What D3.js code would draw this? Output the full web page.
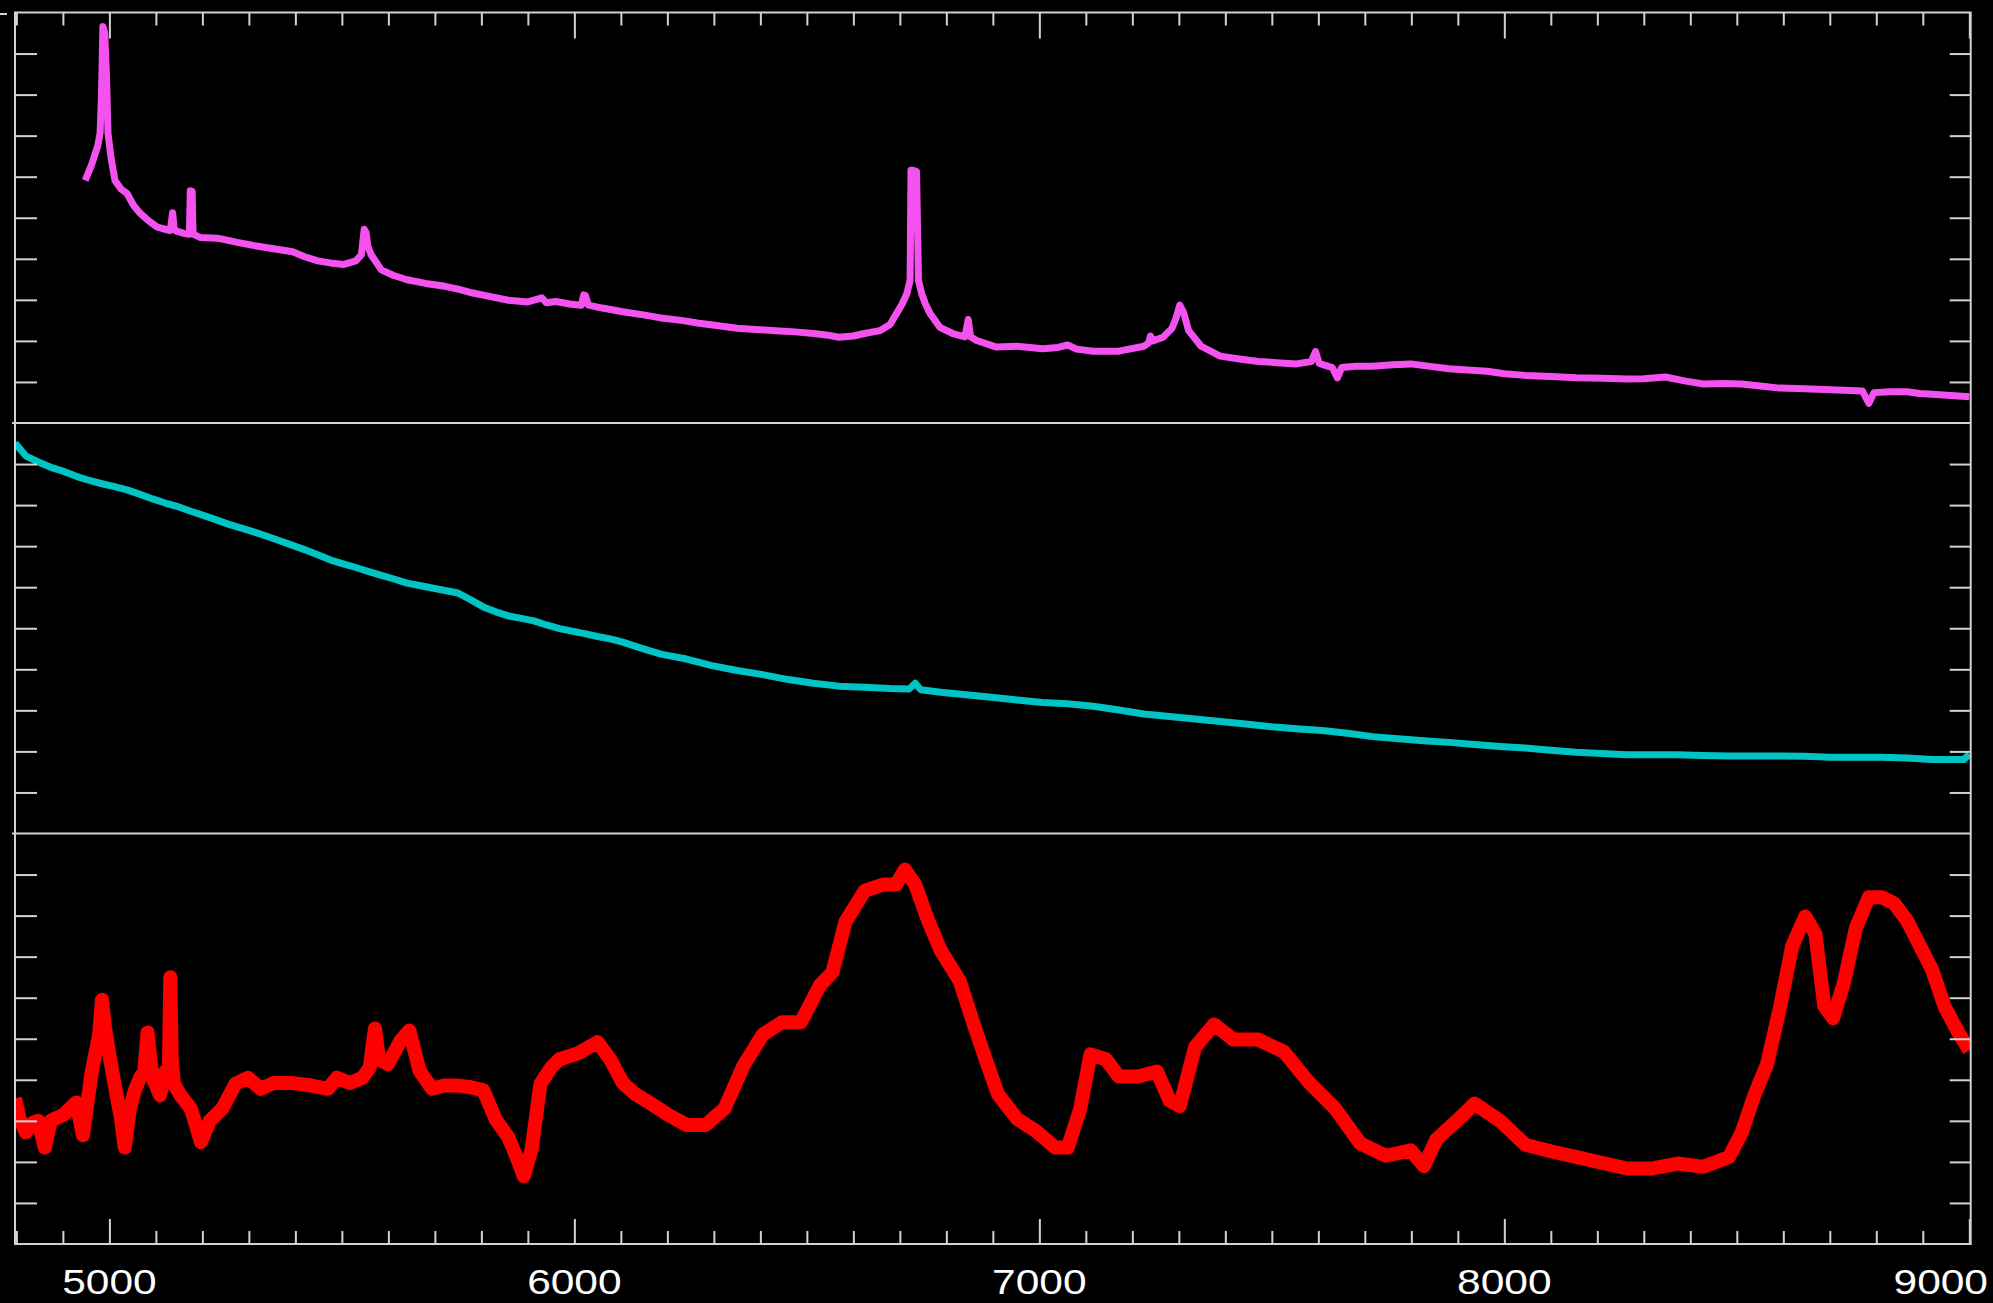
<!DOCTYPE html>
<html>
<head>
<meta charset="utf-8">
<script src="https://cdn.jsdelivr.net/npm/d3@7"></script>
<style>
  html, body { margin: 0; padding: 0; background: #000; }
  svg { display: block; }
</style>
</head>
<body>
<svg id="chart" width="1993" height="1303"></svg>
<script>
// Wavelength axis (Angstrom) and tick labels
const xDomain = [4797, 9003];
const xTickLabels = [5000, 6000, 7000, 8000, 9000];

// Top spectrum (magenta): wavelength / flux (in tick units, panel 0..10)
const topWave = [4948, 4962, 4975, 4980, 4983, 4986, 4990, 4994, 4997, 5003, 5012, 5025, 5038, 5052, 5066, 5085, 5103, 5120, 5131, 5136, 5139, 5143, 5160, 5172, 5174, 5178, 5180, 5195, 5232, 5243, 5275, 5312, 5350, 5394, 5420, 5448, 5475, 5503, 5530, 5542, 5548, 5552, 5556, 5563, 5585, 5610, 5640, 5680, 5722, 5750, 5776, 5820, 5858, 5900, 5930, 5940, 5960, 5990, 6015, 6020, 6024, 6030, 6060, 6104, 6145, 6186, 6230, 6268, 6310, 6350, 6390, 6432, 6475, 6514, 6545, 6569, 6600, 6624, 6657, 6679, 6693, 6705, 6715, 6722, 6724, 6728, 6736, 6740, 6747, 6755, 6765, 6786, 6814, 6840, 6847, 6852, 6865, 6908, 6952, 7007, 7040, 7061, 7080, 7116, 7171, 7225, 7235, 7239, 7244, 7266, 7285, 7294, 7302, 7310, 7321, 7348, 7389, 7430, 7471, 7510, 7553, 7585, 7594, 7602, 7630, 7641, 7650, 7680, 7717, 7760, 7799, 7840, 7881, 7920, 7963, 8000, 8045, 8100, 8155, 8210, 8264, 8300, 8346, 8390, 8428, 8470, 8510, 8550, 8592, 8630, 8674, 8730, 8770, 8784, 8795, 8830, 8866, 8893, 8920, 8960, 9000];
const topFlux = [5.91, 6.30, 6.75, 7.06, 8.0, 9.66, 9.5, 8.4, 7.06, 6.5, 5.91, 5.70, 5.59, 5.30, 5.11, 4.92, 4.77, 4.72, 4.69, 5.12, 4.75, 4.68, 4.62, 4.60, 5.66, 5.64, 4.60, 4.52, 4.50, 4.48, 4.40, 4.32, 4.25, 4.17, 4.05, 3.95, 3.90, 3.86, 3.95, 4.10, 4.72, 4.64, 4.30, 4.10, 3.73, 3.60, 3.49, 3.40, 3.33, 3.26, 3.18, 3.08, 2.99, 2.95, 3.05, 2.93, 2.96, 2.90, 2.87, 3.12, 3.10, 2.87, 2.80, 2.71, 2.64, 2.56, 2.50, 2.43, 2.37, 2.31, 2.28, 2.25, 2.22, 2.18, 2.14, 2.09, 2.12, 2.18, 2.25, 2.40, 2.67, 2.90, 3.15, 3.48, 6.16, 6.16, 6.12, 3.48, 3.15, 2.90, 2.67, 2.33, 2.18, 2.10, 2.52, 2.10, 2.01, 1.85, 1.87, 1.81, 1.84, 1.90, 1.80, 1.75, 1.75, 1.87, 1.95, 2.12, 2.00, 2.09, 2.30, 2.56, 2.87, 2.70, 2.25, 1.87, 1.63, 1.56, 1.50, 1.47, 1.44, 1.50, 1.74, 1.45, 1.35, 1.10, 1.35, 1.38, 1.38, 1.42, 1.44, 1.38, 1.32, 1.29, 1.26, 1.20, 1.16, 1.13, 1.10, 1.09, 1.07, 1.08, 1.12, 1.02, 0.95, 0.96, 0.95, 0.90, 0.85, 0.84, 0.82, 0.80, 0.78, 0.48, 0.74, 0.76, 0.76, 0.72, 0.70, 0.67, 0.64];

// Middle spectrum (cyan)
const midWave = [4797, 4820, 4847, 4874, 4902, 4929, 4957, 4984, 5011, 5038, 5066, 5093, 5120, 5148, 5175, 5202, 5230, 5257, 5284, 5312, 5339, 5366, 5394, 5421, 5448, 5476, 5503, 5530, 5558, 5585, 5612, 5640, 5667, 5694, 5722, 5749, 5776, 5804, 5831, 5858, 5886, 5913, 5940, 5968, 5995, 6022, 6050, 6077, 6104, 6132, 6159, 6186, 6241, 6296, 6350, 6405, 6460, 6514, 6569, 6624, 6679, 6720, 6733, 6745, 6788, 6843, 6897, 6952, 7007, 7061, 7116, 7171, 7225, 7280, 7335, 7389, 7444, 7499, 7553, 7608, 7663, 7717, 7772, 7827, 7881, 7936, 7991, 8045, 8100, 8155, 8209, 8264, 8319, 8373, 8428, 8483, 8537, 8592, 8647, 8701, 8756, 8811, 8866, 8920, 8960, 8988, 9000];
const midFlux = [9.51, 9.20, 9.05, 8.92, 8.82, 8.70, 8.60, 8.52, 8.45, 8.37, 8.26, 8.15, 8.05, 7.96, 7.85, 7.75, 7.64, 7.53, 7.44, 7.34, 7.24, 7.13, 7.02, 6.91, 6.79, 6.66, 6.57, 6.48, 6.38, 6.29, 6.20, 6.10, 6.04, 5.98, 5.92, 5.86, 5.70, 5.52, 5.40, 5.30, 5.24, 5.18, 5.08, 4.99, 4.93, 4.87, 4.80, 4.74, 4.66, 4.56, 4.46, 4.37, 4.25, 4.09, 3.97, 3.87, 3.75, 3.66, 3.59, 3.56, 3.53, 3.52, 3.66, 3.50, 3.44, 3.38, 3.32, 3.25, 3.19, 3.16, 3.10, 3.01, 2.91, 2.85, 2.79, 2.73, 2.67, 2.60, 2.55, 2.51, 2.44, 2.36, 2.31, 2.26, 2.22, 2.17, 2.12, 2.08, 2.03, 1.98, 1.95, 1.92, 1.92, 1.92, 1.90, 1.89, 1.89, 1.89, 1.88, 1.86, 1.86, 1.86, 1.84, 1.80, 1.80, 1.80, 1.93];

// Bottom spectrum (red)
const botWave = [4797, 4807, 4820, 4835, 4847, 4861, 4874, 4888, 4902, 4915, 4929, 4943, 4962, 4978, 4984, 4990, 4997, 5011, 5025, 5033, 5044, 5055, 5066, 5075, 5082, 5088, 5093, 5109, 5120, 5128, 5131, 5134, 5139, 5153, 5175, 5186, 5197, 5216, 5243, 5271, 5298, 5325, 5353, 5394, 5435, 5470, 5489, 5517, 5544, 5560, 5571, 5580, 5599, 5626, 5645, 5667, 5694, 5720, 5749, 5776, 5804, 5831, 5858, 5880, 5891, 5908, 5927, 5950, 5968, 6009, 6050, 6077, 6104, 6130, 6159, 6200, 6241, 6282, 6323, 6364, 6405, 6446, 6487, 6528, 6555, 6583, 6624, 6665, 6692, 6711, 6733, 6760, 6788, 6829, 6856, 6883, 6911, 6952, 6993, 7034, 7061, 7088, 7110, 7143, 7171, 7212, 7253, 7280, 7302, 7335, 7376, 7417, 7471, 7526, 7581, 7636, 7690, 7745, 7799, 7827, 7854, 7909, 7936, 7991, 8045, 8100, 8155, 8209, 8264, 8319, 8373, 8428, 8483, 8510, 8537, 8565, 8592, 8619, 8647, 8669, 8688, 8707, 8730, 8756, 8784, 8811, 8838, 8866, 8893, 8920, 8947, 8975, 9000];
const botFlux = [3.55, 3.05, 2.72, 2.95, 3.00, 2.35, 3.00, 3.08, 3.15, 3.30, 3.45, 2.65, 4.20, 5.10, 5.95, 5.30, 4.80, 3.90, 3.05, 2.35, 3.30, 3.75, 4.05, 4.20, 5.15, 4.50, 4.05, 3.62, 4.20, 4.30, 6.50, 4.50, 3.90, 3.62, 3.30, 2.90, 2.48, 3.00, 3.30, 3.90, 4.05, 3.78, 3.92, 3.92, 3.86, 3.78, 4.05, 3.92, 4.05, 4.30, 5.25, 4.50, 4.38, 4.95, 5.20, 4.22, 3.78, 3.86, 3.86, 3.82, 3.75, 3.03, 2.60, 2.00, 1.65, 2.30, 3.90, 4.30, 4.50, 4.65, 4.92, 4.50, 3.92, 3.66, 3.46, 3.16, 2.90, 2.90, 3.30, 4.35, 5.10, 5.40, 5.40, 6.30, 6.62, 7.85, 8.60, 8.76, 8.76, 9.12, 8.76, 7.90, 7.15, 6.40, 5.45, 4.55, 3.65, 3.05, 2.75, 2.35, 2.35, 3.30, 4.62, 4.50, 4.08, 4.08, 4.20, 3.50, 3.36, 4.80, 5.35, 4.98, 4.98, 4.68, 3.92, 3.30, 2.45, 2.15, 2.28, 1.90, 2.55, 3.12, 3.42, 3.00, 2.42, 2.26, 2.12, 1.98, 1.84, 1.84, 1.96, 1.88, 2.12, 2.70, 3.60, 4.38, 5.72, 7.25, 7.98, 7.55, 5.80, 5.50, 6.35, 7.70, 8.45, 8.45, 8.30, 7.88, 7.28, 6.68, 5.78, 5.18, 4.72];

const W = 1993, H = 1303;
const frame = { left: 15, right: 1970.7, top: 12.5, bottom: 1244 };
const panelH = (frame.bottom - frame.top) / 3;
const frameColor = "#d2d2d2";

const svg = d3.select("#chart");
svg.append("rect").attr("width", W).attr("height", H).attr("fill", "#000");

const x = d3.scaleLinear().domain(xDomain).range([frame.left, frame.right]);

const panels = [
  { wave: topWave, flux: topFlux, color: "#f452ee", width: 7 },
  { wave: midWave, flux: midFlux, color: "#00c4c4", width: 7 },
  { wave: botWave, flux: botFlux, color: "#ff0000", width: 14 }
];

panels.forEach((p, i) => {
  const y0 = frame.top + i * panelH;
  const y = d3.scaleLinear().domain([0, 10]).range([y0 + panelH, y0]);
  const g = svg.append("g");
  const clipId = "clip" + i;
  svg.append("clipPath").attr("id", clipId)
    .append("rect").attr("x", frame.left).attr("y", y0)
    .attr("width", frame.right - frame.left).attr("height", panelH);

  const data = p.wave.map((w, k) => [w, p.flux[k]]);
  const line = d3.line().x(d => x(d[0])).y(d => y(d[1]));
  g.append("path")
    .attr("clip-path", `url(#${clipId})`)
    .attr("d", line(data))
    .attr("fill", "none")
    .attr("stroke", p.color)
    .attr("stroke-width", p.width)
    .attr("stroke-linejoin", "round")
    .attr("stroke-linecap", "butt");

  // inward y ticks on both sides
  const yTicks = d3.range(1, 10);
  const left = d3.axisLeft(y).tickValues(yTicks).tickSize(-22).tickFormat("");
  const right = d3.axisRight(y).tickValues(yTicks).tickSize(-21).tickFormat("");
  [svg.append("g").attr("transform", `translate(${frame.left},0)`).call(left),
   svg.append("g").attr("transform", `translate(${frame.right},0)`).call(right)]
    .forEach(a => {
      a.select(".domain").remove();
      a.selectAll("line").attr("stroke", frameColor).attr("stroke-width", 2);
    });

  // panel separator
  if (i > 0) {
    svg.append("line")
      .attr("x1", frame.left - 3).attr("x2", frame.right)
      .attr("y1", y0).attr("y2", y0)
      .attr("stroke", frameColor).attr("stroke-width", 2);
  }
});

// x ticks: minor every 100 A, major every 1000 A, top and bottom, pointing inward
const minorTicks = d3.range(4800, 9001, 100).filter(v => v % 1000 !== 0);
const majorTicks = xTickLabels;
function xAxes(gen, yPos, minorLen, majorLen) {
  const gMin = svg.append("g").attr("transform", `translate(0,${yPos})`)
    .call(gen(x).tickValues(minorTicks).tickSize(minorLen).tickFormat(""));
  const gMaj = svg.append("g").attr("transform", `translate(0,${yPos})`)
    .call(gen(x).tickValues(majorTicks).tickSize(majorLen).tickFormat(""));
  [gMin, gMaj].forEach(a => {
    a.select(".domain").remove();
    a.selectAll("line").attr("stroke", frameColor).attr("stroke-width", 2);
  });
}
xAxes(d3.axisBottom, frame.bottom, -13, -25);
xAxes(d3.axisTop, frame.top, -13, -26);

// outer frame
svg.append("rect")
  .attr("x", frame.left).attr("y", frame.top)
  .attr("width", frame.right - frame.left).attr("height", frame.bottom - frame.top)
  .attr("fill", "none").attr("stroke", frameColor).attr("stroke-width", 2);

// small stray tick at top-left
svg.append("line").attr("x1", 0).attr("x2", 7).attr("y1", 14).attr("y2", 14)
  .attr("stroke", frameColor).attr("stroke-width", 2);

// x tick labels
const labels = svg.append("g");
xTickLabels.forEach(v => {
  const t = labels.append("text")
    .attr("x", 0).attr("y", 0)
    .attr("text-anchor", "middle")
    .attr("font-family", "Liberation Sans, Arial, Helvetica, sans-serif")
    .attr("font-size", 36)
    .attr("fill", "#ffffff")
    .text(v);
  const sx = 1.18;
  const half = t.node().getBBox().width * sx / 2;
  let cx = x(v);
  if (cx + half > W - 5) cx = W - 5 - half;
  t.attr("transform", `translate(${cx},1294) scale(${sx},1)`);
});
</script>
</body>
</html>
